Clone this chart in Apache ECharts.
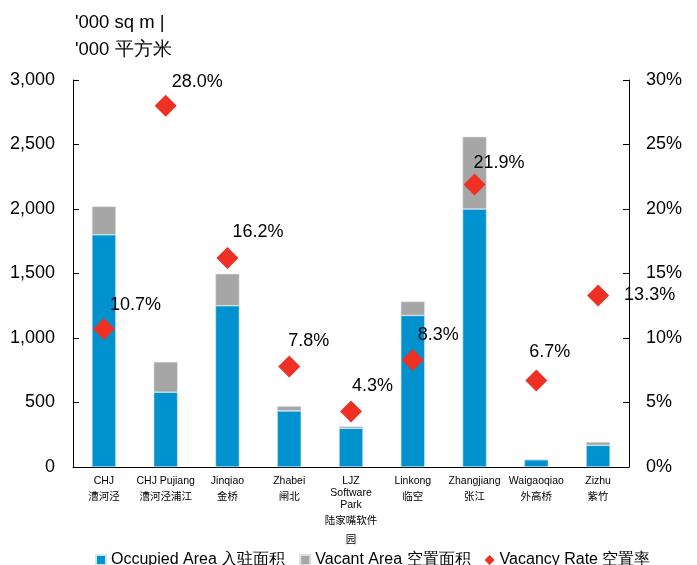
<!DOCTYPE html>
<html>
<head>
<meta charset="utf-8">
<script src="https://cdn.jsdelivr.net/npm/echarts@6/dist/echarts.min.js"></script>
<style>html,body{margin:0;padding:0;background:#fff}#c{width:697px;height:565px}</style>
</head>
<body>
<div id="c"></div>
<script>
var categoriesEn = ['CHJ', 'CHJ Pujiang', 'Jinqiao', 'Zhabei', 'LJZ\nSoftware\nPark', 'Linkong', 'Zhangjiang', 'Waigaoqiao', 'Zizhu'];
var categoriesZh = ['漕河泾', '漕河泾浦江', '金桥', '闸北', '陆家嘴软件\n园', '临空', '张江', '外高桥', '紫竹'];
var occupied = [1800, 580, 1250, 435, 300, 1175, 2000, 56, 168];
var vacant = [220, 235, 248, 37, 15, 108, 560, 5, 26];
var vacancyRate = [10.7, 28.0, 16.2, 7.8, 4.3, 8.3, 21.9, 6.7, 13.3];
var leftTicks = [0, 500, 1000, 1500, 2000, 2500, 3000];
var rightTicks = [0, 5, 10, 15, 20, 25, 30];

// label offsets (style only)
var labelOffsets = [[-10, -24], [-10, -24], [-11, -26], [-17, -25], [-15, -25], [-11, -25], [-17, -21], [-23, -29], [10, 0]];

var FONT = 'Liberation Sans, Arial, sans-serif';
var chart = echarts.init(document.getElementById('c'), null, {renderer: 'canvas'});

var option = {
  animation: false,
  textStyle: {fontFamily: FONT},
  title: {
    text: "'000 sq m |\n'000 平方米",
    left: 70, top: 4,
    textStyle: {fontFamily: FONT, fontSize: 18.5, fontWeight: 'normal', color: '#000', lineHeight: 27}
  },
  grid: {left: 73, right: 68, top: 80, bottom: 98, containLabel: false},
  legend: {
    left: 90, top: 547,
    itemWidth: 10, itemHeight: 10, itemGap: 14,
    textStyle: {fontFamily: FONT, fontSize: 16, color: '#000'},
    data: [
      {name: 'Occupied Area 入驻面积', icon: 'rect'},
      {name: 'Vacant Area 空置面积', icon: 'rect'},
      {name: 'Vacancy Rate 空置率', icon: 'diamond'}
    ]
  },
  xAxis: {
    type: 'category',
    data: categoriesEn,
    axisLine: {lineStyle: {color: '#000', width: 1}},
    axisTick: {inside: true, length: 5, lineStyle: {color: '#000'}},
    axisLabel: {
      interval: 0, margin: 8, color: '#000',
      formatter: function (v, i) {
        var en = categoriesEn[i].split('\n').map(function (s) { return '{en|' + s + '}'; }).join('\n');
        var zh = categoriesZh[i].split('\n').map(function (s) { return '{zh|' + s + '}'; }).join('\n');
        return en + '\n' + zh;
      },
      rich: {
        en: {fontFamily: FONT, fontSize: 10.5, lineHeight: 12, color: '#000'},
        zh: {fontFamily: 'Noto Sans CJK SC, sans-serif', fontSize: 10.5, lineHeight: 19, color: '#000'}
      }
    }
  },
  yAxis: [
    {
      type: 'value', min: leftTicks[0], max: leftTicks[leftTicks.length - 1], interval: 500,
      axisLine: {show: true, lineStyle: {color: '#000'}},
      axisTick: {show: true, inside: true, length: 6, lineStyle: {color: '#000'}},
      splitLine: {show: false},
      axisLabel: {margin: 18, fontSize: 18, color: '#000', fontFamily: FONT,
        formatter: function (v) { return v.toLocaleString('en-US'); }}
    },
    {
      type: 'value', min: rightTicks[0], max: rightTicks[rightTicks.length - 1], interval: 5,
      position: 'right',
      axisLine: {show: true, lineStyle: {color: '#000'}},
      axisTick: {show: true, inside: true, length: 6, lineStyle: {color: '#000'}},
      splitLine: {show: false},
      axisLabel: {margin: 17, fontSize: 18, color: '#000', fontFamily: FONT, formatter: '{value}%'}
    }
  ],
  series: [
    {
      name: 'Occupied Area 入驻面积', type: 'bar', stack: 'a', barWidth: 24,
      itemStyle: {color: '#0091CF', borderColor: '#cfe6f3', borderWidth: 0.6},
      data: occupied
    },
    {
      name: 'Vacant Area 空置面积', type: 'bar', stack: 'a', barWidth: 24,
      itemStyle: {color: '#A6A6A6', borderColor: '#dddddd', borderWidth: 0.6},
      data: vacant
    },
    {
      name: 'Vacancy Rate 空置率', type: 'scatter', yAxisIndex: 1,
      symbol: 'diamond', symbolSize: [22, 22],
      itemStyle: {color: '#EE3124', opacity: 1},
      label: {show: true, position: 'right', fontSize: 18, color: '#000', fontFamily: FONT,
        formatter: function (p) { return p.value.toFixed(1) + '%'; }},
      data: vacancyRate.map(function (v, i) {
        return {value: v, label: {offset: labelOffsets[i]}};
      })
    }
  ]
};
chart.setOption(option);
</script>
</body>
</html>
